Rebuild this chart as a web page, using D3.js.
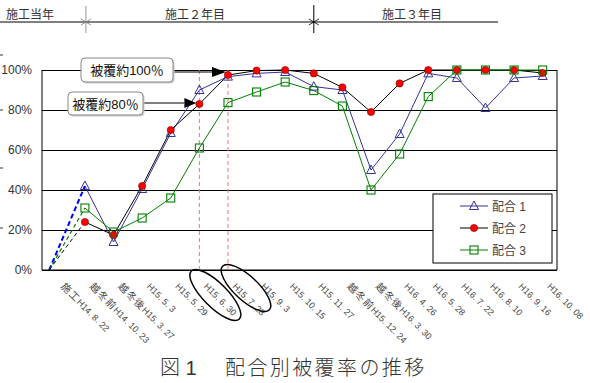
<!DOCTYPE html>
<html><head><meta charset="utf-8">
<script src="https://cdn.jsdelivr.net/npm/d3@7"></script>
<style>
html,body{margin:0;padding:0;background:#fff;}
svg{display:block;}
text{font-family:"Liberation Sans","Noto Sans CJK JP",sans-serif;}
</style></head><body>
<svg id="c" width="590" height="383"></svg>
<script>
const categories = ["施工H14. 8. 22","越冬前H14. 10. 23","越冬後H15. 3. 27","H15. 5. 3","H15. 5. 29","H15. 6. 30","H15. 7. 28","H15. 9. 3","H15. 10. 15","H15. 11. 27","越冬前H15. 12. 24","越冬後H16. 3. 30","H16. 4. 26","H16. 5. 28","H16. 7. 22","H16. 8. 10","H16. 9. 16","H16. 10. 08"];
const series1 = [0,42,14,40.5,68.5,90,96.7,98.3,99,91.7,90,50,68,98.3,96,81,96,97];
const series2 = [0,24,17.5,42,70,83,97.5,99.7,100,98.3,91.3,79,93.3,100,100,100,100,98.5];
const series3 = [0,31,19,26,36,61,83.7,89,94,89.7,82,40,58,86.7,100,100,100,100];
const seriesNames = ["配合 1","配合 2","配合 3"];
const yTicks = [0,20,40,60,80,100];
const yearLabels = ["施工当年","施工２年目","施工３年目"];
const notes = ["被覆約100％","被覆約80％"];

const svg = d3.select("#c");
const L=42,R=557,T=70,B=270;
const x = d3.scaleBand().domain(categories).range([L,R]);
const bw = x.bandwidth();
const xc = c => x(c)+bw/2;
const y = d3.scaleLinear().domain([0,100]).range([B,T]);

// header
const hdr = svg.append("g");
hdr.append("line").attr("x1",0).attr("x2",498).attr("y1",22).attr("y2",22).attr("stroke","#000");
const d1 = xc(categories[1])+1, d2 = xc(categories[9]);
hdr.append("line").attr("x1",d1).attr("x2",d1).attr("y1",6).attr("y2",33).attr("stroke","#999");
hdr.append("line").attr("x1",d2).attr("x2",d2).attr("y1",5).attr("y2",33).attr("stroke","#000");
[[d1,"#777"],[d2,"#000"]].forEach(([px,col])=>{
  hdr.append("path").attr("d",`M${px-5},${19}L${px+5},${25}M${px-5},${25}L${px+5},${19}`).attr("stroke",col).attr("stroke-width",0.8);
});
hdr.append("text").attr("x",6).attr("y",19).attr("font-size",12).attr("fill","#333").text(yearLabels[0]);
hdr.append("text").attr("x",195).attr("y",19).attr("text-anchor","middle").attr("font-size",12).attr("fill","#333").text(yearLabels[1]);
hdr.append("text").attr("x",412).attr("y",19).attr("text-anchor","middle").attr("font-size",12).attr("fill","#333").text(yearLabels[2]);

// small left marks
[55,110,168,228].forEach(v=>svg.append("line").attr("x1",0).attr("x2",3).attr("y1",v).attr("y2",v).attr("stroke","#333"));

// grid + y axis
const ya = svg.append("g").attr("transform",`translate(${L},0)`)
  .call(d3.axisLeft(y).tickValues(yTicks).tickSize(-(R-L)).tickPadding(10).tickFormat(d=>d+"%"));
ya.select(".domain").remove();
ya.selectAll(".tick line").attr("stroke","#000");
ya.selectAll(".tick text").attr("font-size",12).attr("fill","#333").attr("font-family","Liberation Sans, sans-serif");
// frame
svg.append("line").attr("x1",L).attr("x2",L).attr("y1",T).attr("y2",B).attr("stroke","#000");
svg.append("line").attr("x1",R).attr("x2",R).attr("y1",T).attr("y2",B).attr("stroke","#000");
svg.append("line").attr("x1",L).attr("x2",R).attr("y1",B).attr("y2",B).attr("stroke","#000");

// x axis labels
const xa = svg.append("g").attr("transform",`translate(0,${B})`)
  .call(d3.axisBottom(x).tickSize(0));
xa.select(".domain").remove();
xa.selectAll(".tick text").each(function(d){
  const t = d3.select(this);
  t.text(null).attr("x",0).attr("y",0).attr("dy",0)
   .attr("transform","translate(4,17) rotate(45)").attr("text-anchor","start")
   .attr("fill","#444").attr("font-family","Liberation Sans, Noto Sans CJK JP, sans-serif");
  const m = d.match(/^([^\x00-\x7f]*)(.*)$/);
  if(m[1]) t.append("tspan").attr("font-size",10).attr("letter-spacing",1.2).text(m[1]);
  t.append("tspan").attr("font-size",9).text(m[2]);
});

// red dashed verticals
[categories[5],categories[6]].forEach(c=>{
  svg.append("line").attr("x1",xc(c)).attr("x2",xc(c)).attr("y1",y(100)).attr("y2",y(0))
    .attr("stroke","#ff7070").attr("stroke-width",1).attr("stroke-dasharray","4,3");
});

// dashed first segments
const x0 = x(categories[0])+bw*0.25;
[[series1,"#0000ff",2,"5,3"],[series3,"#008000",1.2,"4,3"],[series2,"#000",1,"4,3"]].forEach(([s,col,w,da])=>{
  svg.append("line").attr("x1",x0).attr("y1",y(s[0])).attr("x2",xc(categories[1])).attr("y2",y(s[1]))
    .attr("stroke",col).attr("stroke-width",w).attr("stroke-dasharray",da);
});

const line = d3.line().x((d,i)=>xc(categories[i+1])).y(d=>y(d));
const cols = ["#333399","#000","#008000"];
const all = [series1,series2,series3];
all.forEach((s,k)=>{
  svg.append("path").datum(s.slice(1)).attr("d",line).attr("fill","none").attr("stroke",cols[k]).attr("stroke-width",1);
});
function marker(g,k,px,py){
  if(k===0){
    g.append("path").attr("d",`M${px},${py-5}L${px+4.5},${py+3.5}L${px-4.5},${py+3.5}Z`)
      .attr("fill","none").attr("stroke","#333399").attr("stroke-width",1);
  } else if(k===1){
    g.append("circle").attr("cx",px).attr("cy",py).attr("r",3.6).attr("fill","#ff0000").attr("stroke","#800000").attr("stroke-width",0.6);
  } else {
    g.append("rect").attr("x",px-4).attr("y",py-4).attr("width",8).attr("height",8)
      .attr("fill","none").attr("stroke","#008000").attr("stroke-width",1.1);
  }
}
const mg = svg.append("g");
all.forEach((s,k)=>{
  s.slice(1).forEach((v,i)=>marker(mg,k,xc(categories[i+1]),y(v)));
});

// annotations
function note(bx,by,bwid,bh,txt,tipX,tipY,headLen){
  svg.append("line").attr("x1",bx+bwid).attr("x2",tipX-headLen).attr("y1",tipY).attr("y2",tipY).attr("stroke","#000").attr("stroke-width",1.2);
  svg.append("path").attr("d",`M${tipX},${tipY}L${tipX-headLen},${tipY-5}L${tipX-headLen},${tipY+5}Z`).attr("fill","#000");
  svg.append("rect").attr("x",bx+1.5).attr("y",by+1.5).attr("width",bwid).attr("height",bh).attr("rx",4).attr("fill","#ccc");
  svg.append("rect").attr("x",bx).attr("y",by).attr("width",bwid).attr("height",bh).attr("rx",4).attr("fill","#fff").attr("stroke","#888");
  svg.append("text").attr("x",bx+bwid/2).attr("y",by+bh/2+5).attr("text-anchor","middle").attr("font-size",13).attr("fill","#111").text(txt);
}
note(81,58,92,24,notes[0],xc(categories[6])-2,y(99),14);
note(68,92,75,23,notes[1],xc(categories[5])-3,y(83.5),12);

// ellipses
svg.append("ellipse").attr("cx",0).attr("cy",0).attr("rx",34).attr("ry",12)
  .attr("transform",`translate(${xc(categories[5])+16},295) rotate(45)`).attr("fill","none").attr("stroke","#000").attr("stroke-width",1.5);
svg.append("ellipse").attr("cx",0).attr("cy",0).attr("rx",32).attr("ry",12)
  .attr("transform",`translate(${xc(categories[6])+18},288) rotate(43)`).attr("fill","none").attr("stroke","#000").attr("stroke-width",1.5);

// legend
const lg = svg.append("g");
lg.append("rect").attr("x",433).attr("y",194).attr("width",119).attr("height",69).attr("fill","#fff").attr("stroke","#000");
seriesNames.forEach((n,k)=>{
  const ly = 206+k*22;
  lg.append("line").attr("x1",460).attr("x2",488).attr("y1",ly).attr("y2",ly).attr("stroke",cols[k]).attr("stroke-width",1);
  marker(lg,k,474,ly);
  lg.append("text").attr("x",492).attr("y",ly+4.5).attr("font-size",12).attr("fill","#444").text(n);
});

// title
svg.append("text").attr("x",160).attr("y",375).attr("font-size",20).attr("fill","#333")
  .attr("font-family","Noto Sans CJK JP, sans-serif").attr("font-weight",300).text("図 1");
svg.append("text").attr("x",225).attr("y",375).attr("font-size",20).attr("letter-spacing",2.4).attr("fill","#333")
  .attr("font-family","Noto Sans CJK JP, sans-serif").attr("font-weight",300).text("配合別被覆率の推移");
</script>
</body></html>
